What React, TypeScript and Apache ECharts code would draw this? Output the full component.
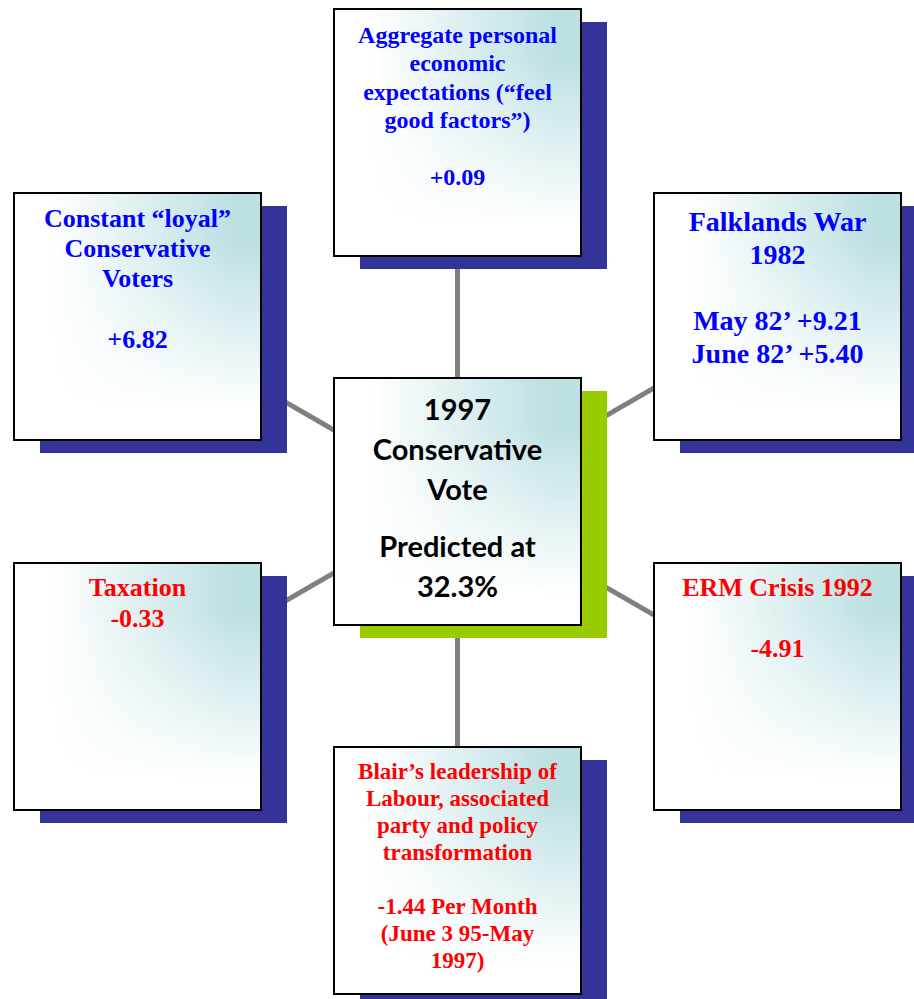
import React, { useEffect, useRef } from "react";
import * as echarts from "echarts";

// ---- Data ----
const centerTitle = ["1997", "Conservative", "Vote"];
const centerPrediction = ["Predicted at", "32.3%"];

const factorNames = [
  "Aggregate personal\neconomic\nexpectations (“feel\ngood factors”)",
  "Constant “loyal”\nConservative\nVoters",
  "Falklands War\n1982",
  "Taxation",
  "ERM Crisis 1992",
  "Blair’s leadership of\nLabour, associated\nparty and policy\ntransformation",
];
const factorEffects = [
  "+0.09",
  "+6.82",
  "May 82’ +9.21\nJune 82’ +5.40",
  "-0.33",
  "-4.91",
  "-1.44 Per Month\n(June 3 95-May\n1997)",
];
const factorGap = ["\n\n", "\n\n", "\n\n", "\n", "\n\n", "\n\n"];
const factorSign = ["pos", "pos", "pos", "neg", "neg", "neg"];

// ---- Layout / style ----
const W = 914;
const H = 999;
const BOX = 247;
const SHADOW_DX = 26;
const SHADOW_DY = 13;
const boxPos: [number, number][] = [
  [334, 9],
  [14, 193],
  [654, 193],
  [14, 563],
  [654, 563],
  [334, 747],
];
const centerPos: [number, number] = [334, 378];
const textTop = [21, 203, 204.5, 571.5, 572, 758.5];
const fontSizes = [24, 26, 28, 26, 26, 23];
const lineHeights = [28.3, 30.3, 33, 31, 30.5, 26.9];
const COLORS: Record<string, string> = { pos: "#0000ff", neg: "#ff0000" };
const TEAL = "#bde0e3";
const NAVY = "#333399";
const GREEN = "#99cc00";

function boxElements(x: number, y: number, shadow: string): any[] {
  return [
    { type: "rect", z: 2, shape: { x: x + SHADOW_DX, y: y + SHADOW_DY, width: BOX, height: BOX }, style: { fill: shadow } },
    {
      type: "rect",
      z: 3,
      shape: { x, y, width: BOX, height: BOX },
      style: {
        fill: new echarts.graphic.LinearGradient(0, 0, 1, 0, [
          { offset: 0, color: "#ffffff" },
          { offset: 0.15, color: "#ffffff" },
          { offset: 0.88, color: TEAL },
          { offset: 1, color: TEAL },
        ]),
      },
    },
    {
      type: "rect",
      z: 4,
      shape: { x, y, width: BOX, height: BOX },
      style: {
        fill: new echarts.graphic.LinearGradient(0, 0, 0, 1, [
          { offset: 0, color: "rgba(255,255,255,0)" },
          { offset: 0.2, color: "rgba(255,255,255,0)" },
          { offset: 0.88, color: "rgba(255,255,255,1)" },
          { offset: 1, color: "rgba(255,255,255,1)" },
        ]),
      },
    },
    { type: "rect", z: 5, shape: { x, y, width: BOX, height: BOX }, style: { fill: "none", stroke: "#000000", lineWidth: 2 } },
  ];
}

export default function App() {
  const ref = useRef<HTMLDivElement>(null);
  useEffect(() => {
    document.body.style.margin = "0";
    if (!ref.current) return;
    const chart = echarts.init(ref.current, null, { renderer: "svg" });
    const elements: any[] = [];
    const ccx = centerPos[0] + BOX / 2;
    const ccy = centerPos[1] + BOX / 2;

    boxPos.forEach(([x, y]) => {
      elements.push({
        type: "line",
        z: 1,
        shape: { x1: ccx, y1: ccy, x2: x + BOX / 2, y2: y + BOX / 2 },
        style: { stroke: "#808080", lineWidth: 5 },
      });
    });

    boxPos.forEach(([x, y], i) => {
      elements.push(...boxElements(x, y, NAVY));
      elements.push({
        type: "text",
        z: 6,
        x: x + BOX / 2,
        y: textTop[i],
        style: {
          text: factorNames[i] + factorGap[i] + factorEffects[i],
          fill: COLORS[factorSign[i]],
          fontSize: fontSizes[i],
          fontFamily: "Liberation Serif, Times New Roman, serif",
          fontWeight: "bold",
          textAlign: "center",
          textVerticalAlign: "top",
          lineHeight: lineHeights[i],
        },
      });
    });

    elements.push(...boxElements(centerPos[0], centerPos[1], GREEN));
    const centerFont = {
      fill: "#000000",
      fontSize: 29,
      fontFamily: "Lato, sans-serif",
      fontWeight: "bold",
      textAlign: "center",
      textVerticalAlign: "top",
      lineHeight: 40,
    };
    elements.push({ type: "text", z: 6, x: ccx, y: 388, style: { ...centerFont, text: centerTitle.join("\n") } });
    elements.push({ type: "text", z: 6, x: ccx, y: 525, style: { ...centerFont, text: centerPrediction.join("\n") } });

    chart.setOption({
      animation: false,
      backgroundColor: "#ffffff",
      graphic: { elements },
    });
    return () => chart.dispose();
  }, []);
  return <div ref={ref} style={{ width: W, height: H }} />;
}
